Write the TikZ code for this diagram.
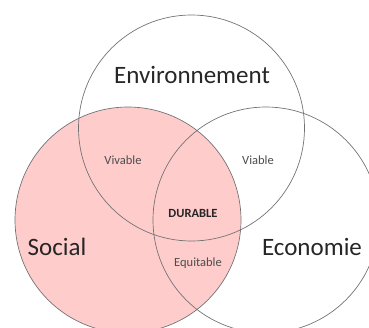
\documentclass[tikz,border=0pt]{standalone}
\usepackage{fontspec}
\setmainfont{Carlito}
\begin{document}
\begin{tikzpicture}[x=1pt,y=-1pt,
  ring/.style={draw=black!55,line width=0.7pt},
  big/.style={font=\fontsize{25}{28}\selectfont,text=black!85},
  small/.style={font=\fontsize{12.5}{14}\selectfont,text=black!70},
  bold/.style={font=\fontsize{12.5}{14}\selectfont\bfseries,text=black!85}]
\useasboundingbox (0,0) rectangle (369,327);
\fill[fill={rgb,255:red,255;green,204;blue,204}] (128,220) circle[radius=113];
\draw[ring] (128,220) circle[radius=113];
\draw[ring] (191.5,128) circle[radius=113];
\draw[ring] (266,220) circle[radius=113];
\node[big] (env) at (192,75) {Environnement};
\node[big] (soc) at (57,247) {Social};
\node[big] (eco) at (312,247) {Economie};
\node[small] (viv) at (123,160) {Vivable};
\node[small] (via) at (258,160) {Viable};
\node[bold] (dur) at (193,213) {DURABLE};
\node[small] (equ) at (198,263) {Equitable};
\end{tikzpicture}
\end{document}
